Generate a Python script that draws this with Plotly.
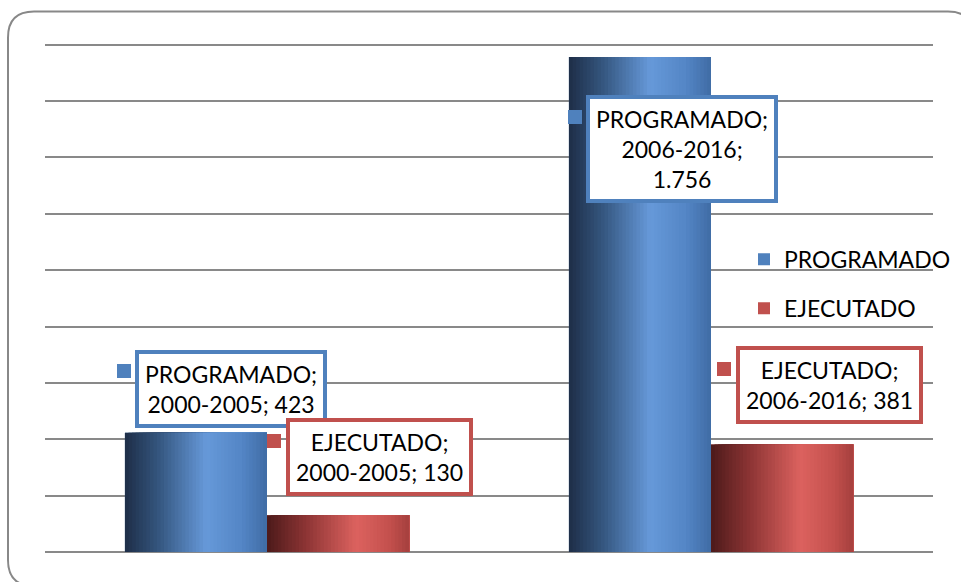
import plotly.graph_objects as go

# ---- data ----
categories = ["2000-2005", "2006-2016"]
series_names = ["PROGRAMADO", "EJECUTADO"]
programado = [423, 1756]
ejecutado = [130, 381]
y_ticks = list(range(0, 2000, 200))

# ---- style ----
FONT = "Lato"
base_colors = {"PROGRAMADO": "#4F81BD", "EJECUTADO": "#C0504D"}
grad_stops = {
    "PROGRAMADO": [(0.0, (30, 46, 71)), (0.25, (54, 88, 130)), (0.57, (102, 153, 217)),
                   (0.82, (84, 134, 198)), (1.0, (64, 108, 165))],
    "EJECUTADO": [(0.0, (76, 26, 26)), (0.27, (140, 52, 52)), (0.63, (220, 98, 95)),
                  (0.86, (196, 80, 77)), (1.0, (165, 64, 62))],
}
BAR_W = 0.32
N_STRIPS = 40

W, H = 961, 582
Y_TOP = 1820                      # axis top (a little above the last grid line)
ML, MR, MB = 45, 28, 30
PLOT_H_1800 = 507                 # px between 0 and 1800
MT = (H - MB) - PLOT_H_1800 * Y_TOP / 1800


def interp(stops, t):
    for (t0, c0), (t1, c1) in zip(stops, stops[1:]):
        if t <= t1:
            f = (t - t0) / (t1 - t0) if t1 > t0 else 0
            return "rgb(%d,%d,%d)" % tuple(round(a + (b - a) * f) for a, b in zip(c0, c1))
    return "rgb(%d,%d,%d)" % stops[-1][1]


def fmt(v):
    return f"{v:,}".replace(",", ".")


fig = go.Figure()
series = [("PROGRAMADO", programado, -BAR_W), ("EJECUTADO", ejecutado, 0.0)]
for name, vals, off in series:
    # base bar (legend entry)
    fig.add_trace(go.Bar(x=categories, y=vals, name=name, width=BAR_W, offset=off,
                         marker=dict(color=base_colors[name], line=dict(width=0)),
                         legendgroup=name, showlegend=True))
    # gradient overlay strips
    for i in range(N_STRIPS):
        t = (i + 0.5) / N_STRIPS
        o = off + i * BAR_W / N_STRIPS
        fig.add_trace(go.Bar(x=categories, y=vals, width=BAR_W - i * BAR_W / N_STRIPS, offset=o,
                             marker=dict(color=interp(grad_stops[name], t), line=dict(width=0)),
                             legendgroup=name, showlegend=False, hoverinfo="skip"))

# data labels: box shifts and marker-square shifts (px, relative to category centre / bar top)
label_shifts = {
    "PROGRAMADO": [(-36, 44), (-29.5, -92)],
    "EJECUTADO": [(112, 58), (118.5, 60)],
}
square_shifts = {
    "PROGRAMADO": [(-143, 62), (-136.5, -60)],
    "EJECUTADO": [(6.5, 74.5), (13, 75.7)],
}
for name, vals, off in series:
    for ci, (cat, v) in enumerate(zip(categories, vals)):
        if v > 1000:
            txt = f"{name};<br>{cat};<br>{fmt(v)}"
        else:
            txt = f"{name};<br>{cat}; {fmt(v)}"
        lx, ly = label_shifts[name][ci]
        fig.add_annotation(x=cat, y=v, xref="x", yref="y", text=txt, showarrow=False,
                           xshift=lx, yshift=ly, xanchor="center", yanchor="middle",
                           align="center", font=dict(family=FONT, size=23, color="#000000"),
                           bgcolor="#FFFFFF", bordercolor=base_colors[name], borderwidth=4,
                           borderpad=6)
        sx, sy = square_shifts[name][ci]
        fig.add_annotation(x=cat, y=v, xref="x", yref="y", text=" ", showarrow=False,
                           xshift=sx, yshift=sy, xanchor="center", yanchor="middle",
                           width=14, height=14, bgcolor=base_colors[name], borderpad=0,
                           borderwidth=0, font=dict(size=6))

# outer rounded frame (paper coords)
pw, ph = W - ML - MR, H - MT - MB


def px(x):
    return (x - ML) / pw


def py(y):
    return (H - MB - y) / ph


x0, x1, y0, y1, r = 8, 974, 12, 586, 26
path = (f"M {px(x0 + r)},{py(y0)} L {px(x1 - r)},{py(y0)} Q {px(x1)},{py(y0)} {px(x1)},{py(y0 + r)} "
        f"L {px(x1)},{py(y1 - r)} Q {px(x1)},{py(y1)} {px(x1 - r)},{py(y1)} "
        f"L {px(x0 + r)},{py(y1)} Q {px(x0)},{py(y1)} {px(x0)},{py(y1 - r)} "
        f"L {px(x0)},{py(y0 + r)} Q {px(x0)},{py(y0)} {px(x0 + r)},{py(y0)} Z")
fig.add_shape(type="path", path=path, xref="paper", yref="paper",
              line=dict(color="#888888", width=2), fillcolor="rgba(0,0,0,0)", layer="below")

fig.update_layout(
    width=W, height=H,
    margin=dict(l=ML, r=MR, t=MT, b=MB, pad=0, autoexpand=False),
    paper_bgcolor="#FFFFFF", plot_bgcolor="#FFFFFF",
    barmode="overlay",
    font=dict(family=FONT, color="#000000"),
    xaxis=dict(type="category", range=[-0.5, 1.5], showticklabels=False, showgrid=False,
               zeroline=False, showline=False, ticks=""),
    yaxis=dict(range=[0, Y_TOP], tickvals=y_ticks, showticklabels=False,
               showgrid=True, gridcolor="#898989", gridwidth=2,
               zeroline=True, zerolinecolor="#898989", zerolinewidth=2, showline=False, ticks=""),
    legend=dict(x=px(744), y=py(238), xanchor="left", yanchor="top",
                font=dict(family=FONT, size=23, color="#000000"),
                bgcolor="rgba(0,0,0,0)", traceorder="grouped", tracegroupgap=16,
                itemwidth=30),
    showlegend=True,
)

fig.write_html("out.html", post_script="document.body.style.margin='0';",
               config={"displayModeBar": False})
